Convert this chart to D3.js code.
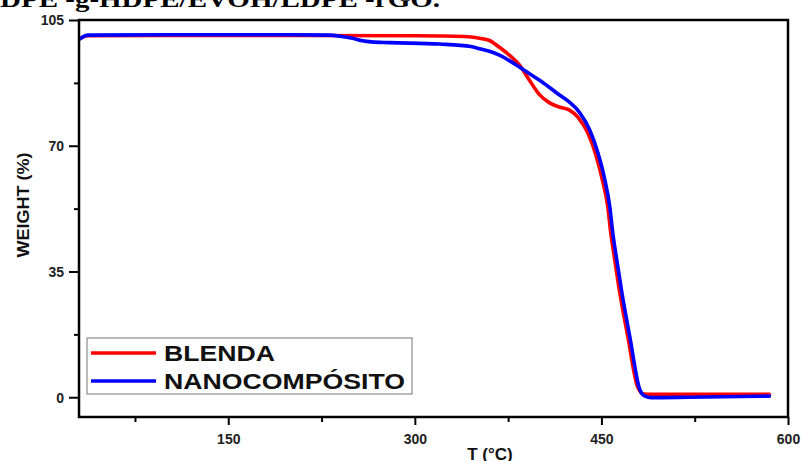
<!DOCTYPE html>
<html>
<head>
<meta charset="utf-8">
<script src="https://cdn.jsdelivr.net/npm/d3@7"></script>
<style>
  html, body { margin: 0; padding: 0; background: #fff; }
  svg { display: block; }
</style>
</head>
<body>
<svg id="chart" width="804" height="461"></svg>
<script>
// ---------- data ----------
const titleText = "DPE -g-HDPE/EVOH/LDPE -rGO.";
const seriesNames = ["BLENDA", "NANOCOMPÓSITO"];
const seriesColors = ["#ff0000", "#0000ff"];

const blendaT = [31, 37, 100, 200, 300, 340, 352, 360, 368, 376, 384, 392, 400, 408, 416, 424, 431, 439, 445.5, 451.1, 455.1, 457.5, 460.7, 464.7, 471.2, 479.2, 484, 490, 520, 585];
const blendaW = [99.9, 100.6, 100.7, 100.7, 100.6, 100.4, 99.9, 99.3, 97.4, 95.2, 92.5, 88.3, 84.3, 82.0, 80.8, 80.0, 78.0, 73.6, 67.5, 60.0, 53.0, 45.8, 38.3, 29.2, 16.9, 2.8, 0.9, 0.8, 0.8, 0.8];

const nanoT = [31, 37, 100, 200, 232, 240, 250, 258, 265, 280, 320, 345, 352, 360, 368, 376, 384, 392, 400, 408, 416, 424, 432.6, 440.6, 447.1, 452.7, 456.7, 459.1, 462.3, 466.4, 472.8, 480.8, 485, 490, 520, 585];
const nanoW = [99.8, 100.8, 100.9, 100.9, 100.8, 100.5, 99.9, 99.2, 98.9, 98.7, 98.3, 97.6, 97.0, 96.3, 95.2, 93.7, 91.9, 90.1, 88.3, 86.3, 84.2, 82.2, 79.2, 74.4, 68.1, 60.6, 53.1, 45.8, 38.3, 29.2, 16.9, 2.2, 0.3, -0.1, 0.0, 0.3];

const xMajorTicks = [150, 300, 450, 600];
const xMinorTicks = [75, 225, 375, 525];
const yMajorTicks = [0, 35, 70, 105];
const yMinorTicks = [17.5, 52.5, 87.5];

// ---------- layout ----------
const svg = d3.select("#chart");
const L = 79, R = 788, T = 20, B = 417;

const x = d3.scaleLinear().domain([30, 600]).range([L, R]);
const y = d3.scaleLinear().domain([-5.5, 105]).range([B, T]);

// title (cut off at top)
svg.append("text")
  .attr("x", 0).attr("y", 7)
  .attr("font-family", "Liberation Serif, Times New Roman, serif")
  .attr("font-weight", "bold")
  .attr("font-size", 24)
  .attr("textLength", 440)
  .attr("lengthAdjust", "spacingAndGlyphs")
  .text(titleText);

// lines
const series = [
  { T: blendaT, W: blendaW, color: seriesColors[0] },
  { T: nanoT, W: nanoW, color: seriesColors[1] }
];
const line = d3.line()
  .x(d => x(d[0]))
  .y(d => y(d[1]))
  .curve(d3.curveMonotoneX);

series.forEach(s => {
  svg.append("path")
    .datum(s.T.map((t, i) => [t, s.W[i]]))
    .attr("fill", "none")
    .attr("stroke", s.color)
    .attr("stroke-width", 3.6)
    .attr("stroke-linejoin", "round")
    .attr("stroke-linecap", "round")
    .attr("d", line);
});

// axes
const fontFam = "Liberation Sans, Arial, sans-serif";
const xAxis = svg.append("g").attr("transform", `translate(0,${B})`)
  .call(d3.axisBottom(x).tickValues(xMajorTicks).tickSize(8).tickPadding(6).tickFormat(d3.format("d")));
const xMinor = svg.append("g").attr("transform", `translate(0,${B})`)
  .call(d3.axisBottom(x).tickValues(xMinorTicks).tickSize(5).tickFormat(""));
const yAxis = svg.append("g").attr("transform", `translate(${L},0)`)
  .call(d3.axisLeft(y).tickValues(yMajorTicks).tickSize(10).tickPadding(5).tickFormat(d3.format("d")));
const yMinor = svg.append("g").attr("transform", `translate(${L},0)`)
  .call(d3.axisLeft(y).tickValues(yMinorTicks).tickSize(5).tickFormat(""));

[xAxis, xMinor, yAxis, yMinor].forEach(g => {
  g.select(".domain").remove();
  g.selectAll(".tick line").attr("stroke", "#000").attr("stroke-width", 2);
  g.selectAll("text")
    .attr("font-family", fontFam)
    .attr("font-weight", "bold")
    .attr("font-size", 14)
    .attr("fill", "#222");
});
xAxis.selectAll("text").attr("dy", "0.9em");
yAxis.selectAll("text").attr("dy", "0.35em");

// frame
svg.append("rect")
  .attr("x", L).attr("y", T)
  .attr("width", R - L).attr("height", B - T)
  .attr("fill", "none").attr("stroke", "#000").attr("stroke-width", 2.5);

// axis titles
svg.append("text")
  .attr("x", 490).attr("y", 460)
  .attr("text-anchor", "middle")
  .attr("font-family", fontFam).attr("font-weight", "bold").attr("font-size", 17)
  .attr("fill", "#111")
  .text("T (°C)");

svg.append("text")
  .attr("transform", "translate(29,205) rotate(-90)")
  .attr("text-anchor", "middle")
  .attr("font-family", fontFam).attr("font-weight", "bold").attr("font-size", 16)
  .attr("textLength", 105).attr("lengthAdjust", "spacingAndGlyphs")
  .attr("fill", "#111")
  .text("WEIGHT (%)");

// legend
const leg = svg.append("g");
leg.append("rect")
  .attr("x", 87).attr("y", 338).attr("width", 325).attr("height", 56)
  .attr("fill", "#fff").attr("stroke", "#777").attr("stroke-width", 1);
const legendY = [353, 381];
const legendLen = [111, 241];
seriesNames.forEach((name, i) => {
  leg.append("line")
    .attr("x1", 91).attr("x2", 156)
    .attr("y1", legendY[i]).attr("y2", legendY[i])
    .attr("stroke", seriesColors[i]).attr("stroke-width", 3.6);
  leg.append("text")
    .attr("x", 164).attr("y", legendY[i] + 8)
    .attr("font-family", fontFam).attr("font-weight", "bold").attr("font-size", 22)
    .attr("textLength", legendLen[i]).attr("lengthAdjust", "spacingAndGlyphs")
    .attr("fill", "#111")
    .text(name);
});
</script>
</body>
</html>
